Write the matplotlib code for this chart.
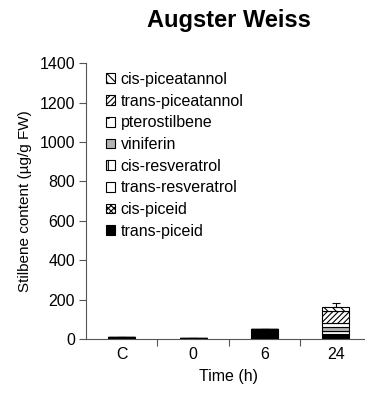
import numpy as np
import matplotlib
matplotlib.use("Agg")
import matplotlib.pyplot as plt

plt.rcParams["font.family"] = ["Liberation Sans", "DejaVu Sans"]
plt.rcParams["hatch.linewidth"] = 0.8

# time points and stacked stilbene content (ug/g FW)
times = ["C", "0", "6", "24"]
compounds = [
    "trans-piceid",
    "cis-piceid",
    "trans-resveratrol",
    "cis-resveratrol",
    "viniferin",
    "pterostilbene",
    "trans-piceatannol",
    "cis-piceatannol",
]
trans_piceid = [10, 8, 52, 23]
cis_piceid = [0, 0, 0, 3]
trans_resveratrol = [0, 0, 0, 13]
cis_resveratrol = [0, 0, 0, 3]
viniferin = [0, 0, 0, 21]
pterostilbene = [0, 0, 0, 21]
trans_piceatannol = [0, 0, 0, 57]
cis_piceatannol = [0, 0, 0, 21]
err_upper = [0, 0, 0, 20]

series = [trans_piceid, cis_piceid, trans_resveratrol, cis_resveratrol,
          viniferin, pterostilbene, trans_piceatannol, cis_piceatannol]
faces = ["black", "white", "white", "white", "#b4b4b4", "white", "white", "white"]
hatches = [None, "xxxxxx", None, "|", None, ".", "//////", "\\\\\\\\"]

fig = plt.figure(figsize=(3.65, 3.98), dpi=100)
ax = fig.add_axes([0.236, 0.148, 0.782, 0.6935])

x = np.arange(len(times))
bottom = np.zeros(len(times))
handles = []
for vals, fc, h, name in zip(series, faces, hatches, compounds):
    vals = np.array(vals, dtype=float)
    bars = ax.bar(x, vals, width=0.38, bottom=bottom, color=fc, hatch=h,
                  edgecolor="black", linewidth=0.8, label=name)
    handles.append(bars)
    bottom += vals

ax.errorbar(x, bottom, yerr=[np.zeros(len(times)), err_upper], fmt="none",
            ecolor="black", elinewidth=0.8, capsize=3, capthick=0.8)

ax.set_xlim(-0.5, len(times) - 0.5)
ax.set_ylim(0, 1400)
ax.set_yticks(np.arange(0, 1401, 200))

# category labels at bar centres, tick marks between categories
ax.set_xticks(np.arange(0.5, len(times) - 1, 1))
ax.set_xticklabels([])
ax.set_xticks(x, minor=True)
ax.set_xticklabels(times, minor=True)
ax.tick_params(axis="x", which="minor", length=0, pad=6, labelsize=11.5)
ax.tick_params(axis="x", which="major", direction="out", length=5, width=0.8, color="#555555")
ax.tick_params(axis="y", direction="out", length=5, width=0.8, color="#555555",
               labelsize=11.5, pad=3)

for side in ["top", "right"]:
    ax.spines[side].set_visible(False)
for side in ["left", "bottom"]:
    ax.spines[side].set_color("#555555")
    ax.spines[side].set_linewidth(0.8)

ax.set_ylabel("Stilbene content (\u00b5g/g FW)", fontsize=11, labelpad=5)
ax.set_xlabel("Time (h)", fontsize=11.5, labelpad=5)
fig.suptitle("Augster Weiss", fontsize=17, fontweight="bold", x=0.628, y=0.978)

ax.legend(handles[::-1], compounds[::-1], loc="upper left", bbox_to_anchor=(0.02, 1.02),
          frameon=False, fontsize=11.5, handlelength=0.55, handleheight=0.55,
          handletextpad=0.35, labelspacing=0.42)

fig.savefig("out.png", dpi=100)
